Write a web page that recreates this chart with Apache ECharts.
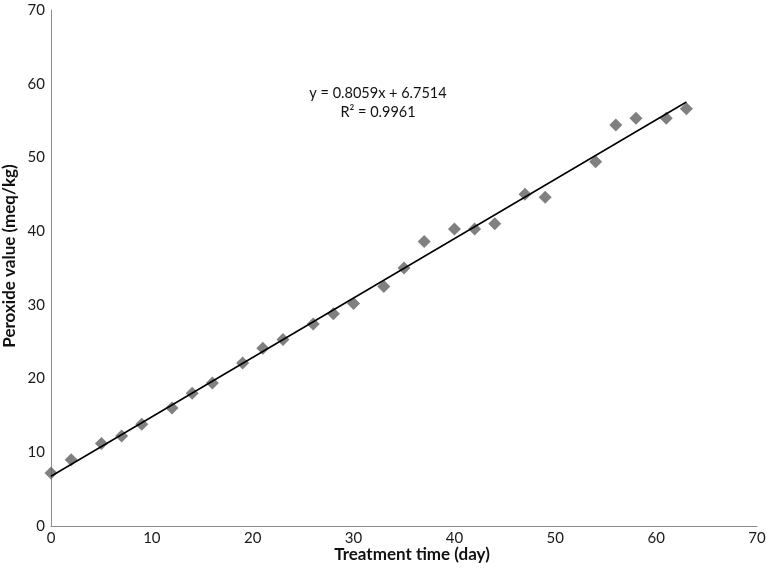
<!DOCTYPE html>
<html>
<head>
<meta charset="utf-8">
<script src="https://cdn.jsdelivr.net/npm/echarts@6/dist/echarts.min.js"></script>
<style>
  html, body { margin: 0; padding: 0; background: #fff; }
  #main { width: 767px; height: 573px; }
</style>
</head>
<body>
<div id="main"></div>
<script>
var days = [0, 2, 5, 7, 9, 12, 14, 16, 19, 21, 23, 26, 28, 30, 33, 35, 37, 40, 42, 44, 47, 49, 54, 56, 58, 61, 63];
var peroxide = [7.2, 9.0, 11.2, 12.2, 13.8, 16.0, 18.0, 19.4, 22.1, 24.1, 25.3, 27.4, 28.8, 30.2, 32.5, 35.0, 38.6, 40.3, 40.3, 41.0, 45.0, 44.6, 49.4, 54.4, 55.3, 55.3, 56.6];
var trendX = [0, 63];
var trendY = [6.75, 57.52];
var equation = 'y = 0.8059x + 6.7514\nR² = 0.9961';
var xTitle = 'Treatment time (day)';
var yTitle = 'Peroxide value (meq/kg)';

var font = 'Lato, "Open Sans", sans-serif';
var axisCommon = {
  type: 'value',
  min: 0,
  max: 70,
  interval: 10,
  axisLine: { show: true, lineStyle: { color: '#8c8c8c', width: 1 } },
  axisTick: { show: false },
  splitLine: { show: false },
  axisLabel: { fontFamily: font, fontSize: 15, color: '#1a1a1a' }
};
var titleStyle = { fontFamily: font, fontSize: 17, fontWeight: 'bold', fill: '#111' };

var option = {
  backgroundColor: '#fff',
  animation: false,
  grid: { left: 51, top: 10, right: 10, bottom: 47, containLabel: false, outerBoundsMode: 'none' },
  xAxis: Object.assign({}, axisCommon, {
    axisLabel: Object.assign({}, axisCommon.axisLabel, { margin: 5 })
  }),
  yAxis: Object.assign({}, axisCommon, {
    axisLabel: Object.assign({}, axisCommon.axisLabel, { margin: 6 })
  }),
  graphic: [{
    type: 'text',
    x: 378,
    y: 84,
    style: {
      text: equation,
      textAlign: 'center',
      fontFamily: font,
      fontSize: 14.5,
      lineHeight: 19,
      fill: '#111'
    }
  }, {
    type: 'text',
    x: 412,
    y: 555,
    style: Object.assign({ text: xTitle, textAlign: 'center', textVerticalAlign: 'middle' }, titleStyle)
  }, {
    type: 'text',
    x: 10,
    y: 256,
    rotation: Math.PI / 2,
    style: Object.assign({ text: yTitle, textAlign: 'center', textVerticalAlign: 'middle' }, titleStyle)
  }],
  series: [{
    type: 'line',
    data: trendX.map(function (x, i) { return [x, trendY[i]]; }),
    showSymbol: false,
    lineStyle: { color: '#000', width: 1.5 },
    z: 3
  }, {
    type: 'scatter',
    data: days.map(function (d, i) { return [d, peroxide[i]]; }),
    symbol: 'diamond',
    symbolSize: 13,
    itemStyle: { color: '#606060' },
    z: 2
  }]
};
echarts.init(document.getElementById('main')).setOption(option);
</script>
</body>
</html>
